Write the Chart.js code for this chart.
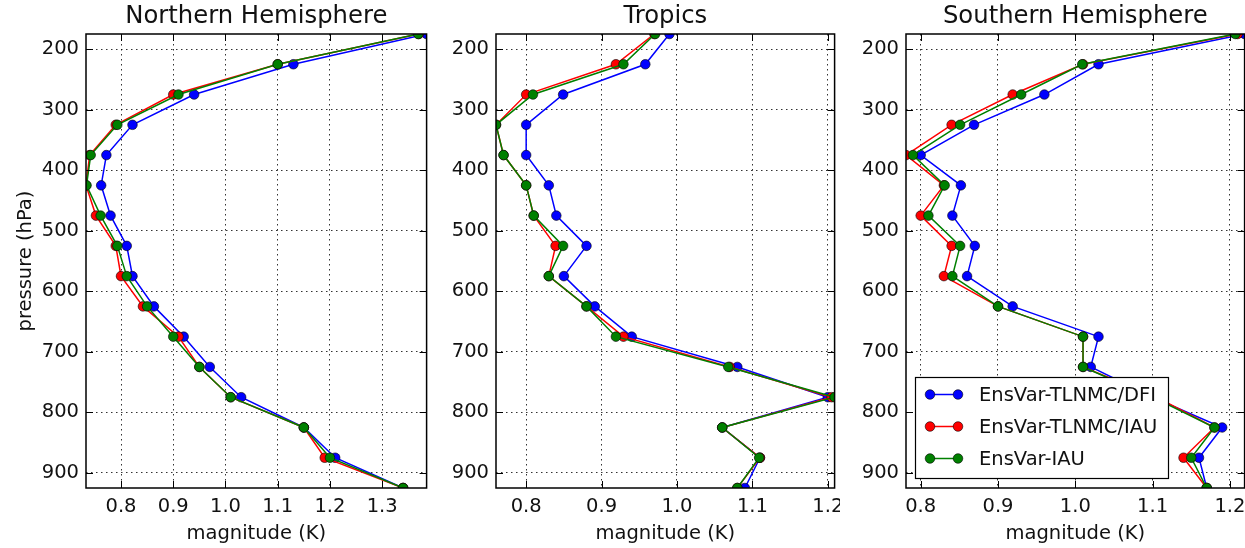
<!DOCTYPE html>
<html>
<head>
<meta charset="utf-8">
<title>Increment magnitude profiles</title>
<script src="https://cdn.jsdelivr.net/npm/chart.js@4.4.1/dist/chart.umd.min.js"></script>
<style>
  html, body { margin: 0; padding: 0; background: #fff; overflow: hidden; }
  #wrap { position: relative; width: 1245px; height: 548px; overflow: hidden; }
  .panel { position: absolute; top: 0; height: 548px; }
</style>
</head>
<body>
<div id="wrap">
  <div class="panel" style="left:0;width:432px"><canvas id="nh"></canvas></div>
  <div class="panel" style="left:440px;width:400px"><canvas id="tr"></canvas></div>
  <div class="panel" style="left:850px;width:400px"><canvas id="sh"></canvas></div>
</div>
<script>
// pressure levels (hPa), top of profile first
const levels = [175, 225, 275, 325, 375, 425, 475, 525, 575, 625, 675, 725, 775, 825, 875, 925];
const seriesNames = ['EnsVar-TLNMC/DFI', 'EnsVar-TLNMC/IAU', 'EnsVar-IAU'];
const seriesColors = ['#0000ff', '#ff0000', '#008000'];

// Northern Hemisphere
const nhDfi      = [1.385, 1.13, 0.94, 0.822, 0.772, 0.762, 0.78, 0.811, 0.822, 0.863, 0.92, 0.97, 1.03, 1.15, 1.21, 1.34];
const nhTlnmcIau = [1.37, 1.10, 0.90, 0.79, 0.74, 0.733, 0.752, 0.79, 0.80, 0.842, 0.91, 0.95, 1.01, 1.15, 1.19, 1.34];
const nhIau      = [1.369, 1.10, 0.91, 0.793, 0.742, 0.734, 0.761, 0.793, 0.811, 0.85, 0.90, 0.95, 1.01, 1.15, 1.20, 1.34];

// Tropics
const trDfi      = [0.99, 0.958, 0.849, 0.80, 0.80, 0.83, 0.84, 0.88, 0.85, 0.891, 0.94, 1.08, 1.20, 1.06, 1.11, 1.09];
const trTlnmcIau = [0.97, 0.919, 0.80, 0.76, 0.77, 0.80, 0.81, 0.839, 0.83, 0.88, 0.929, 1.07, 1.205, 1.06, 1.11, 1.08];
const trIau      = [0.971, 0.929, 0.809, 0.76, 0.77, 0.80, 0.81, 0.849, 0.83, 0.88, 0.919, 1.068, 1.209, 1.06, 1.109, 1.08];

// Southern Hemisphere
const shDfi      = [1.219, 1.03, 0.96, 0.869, 0.80, 0.852, 0.841, 0.87, 0.86, 0.919, 1.03, 1.02, 1.10, 1.19, 1.16, 1.17];
const shTlnmcIau = [1.21, 1.01, 0.919, 0.84, 0.781, 0.83, 0.80, 0.84, 0.83, 0.90, 1.01, 1.01, 1.105, 1.18, 1.14, 1.17];
const shIau      = [1.207, 1.009, 0.93, 0.851, 0.79, 0.831, 0.81, 0.851, 0.841, 0.90, 1.01, 1.01, 1.10, 1.18, 1.15, 1.17];

// tick labels
const yTicks = [200, 300, 400, 500, 600, 700, 800, 900];
const nhXTicks = [0.8, 0.9, 1.0, 1.1, 1.2, 1.3];
const trXTicks = [0.8, 0.9, 1.0, 1.1, 1.2];
const shXTicks = [0.8, 0.9, 1.0, 1.1, 1.2];

const FONT = 'DejaVu Sans';
const TEXT = '#111';
const TICK_LEN = 7;

// box + inward ticks on all four sides (matplotlib look)
const frameTicks = {
  id: 'frameTicks',
  afterDatasetsDraw(chart) {
    const { ctx, chartArea: a, scales: { x, y } } = chart;
    ctx.save();
    ctx.strokeStyle = '#000';
    ctx.lineWidth = 1;
    ctx.beginPath();
    x.ticks.forEach(t => {
      const px = Math.round(x.getPixelForValue(t.value)) + 0.5;
      ctx.moveTo(px, a.top); ctx.lineTo(px, a.top + TICK_LEN);
      ctx.moveTo(px, a.bottom); ctx.lineTo(px, a.bottom - TICK_LEN);
    });
    y.ticks.forEach(t => {
      const py = Math.round(y.getPixelForValue(t.value)) + 0.5;
      ctx.moveTo(a.left, py); ctx.lineTo(a.left + TICK_LEN, py);
      ctx.moveTo(a.right, py); ctx.lineTo(a.right - TICK_LEN, py);
    });
    ctx.stroke();
    ctx.lineWidth = 1.5;
    ctx.strokeRect(a.left, a.top, a.right - a.left, a.bottom - a.top);
    ctx.restore();
  }
};

// legend box in lower-left of the plot, two markers per entry
const boxLegend = {
  id: 'boxLegend',
  afterDraw(chart) {
    const { ctx, chartArea: a } = chart;
    const w = 253, h = 101;
    const left = a.left + 9, top = a.bottom - 10 - h;
    ctx.save();
    ctx.fillStyle = '#fff';
    ctx.fillRect(left, top, w, h);
    ctx.strokeStyle = '#000';
    ctx.lineWidth = 1.2;
    ctx.strokeRect(left + 0.5, top + 0.5, w, h);
    chart.data.datasets.forEach((ds, i) => {
      const cy = top + 17.5 + i * 32;
      ctx.strokeStyle = ds.borderColor;
      ctx.lineWidth = 1.5;
      ctx.beginPath();
      ctx.moveTo(left + 15, cy);
      ctx.lineTo(left + 43, cy);
      ctx.stroke();
      [left + 15, left + 43].forEach(cx => {
        ctx.beginPath();
        ctx.arc(cx, cy, 4.8, 0, Math.PI * 2);
        ctx.fillStyle = ds.borderColor;
        ctx.fill();
        ctx.lineWidth = 0.6;
        ctx.strokeStyle = '#000';
        ctx.stroke();
      });
      ctx.fillStyle = TEXT;
      ctx.font = '19.5px "' + FONT + '"';
      ctx.textBaseline = 'middle';
      ctx.textAlign = 'left';
      ctx.fillText(ds.label, left + 64, cy + 1);
    });
    ctx.restore();
  }
};

function buildDatasets(dfi, tlnmcIau, iau) {
  return [dfi, tlnmcIau, iau].map((vals, i) => ({
    label: seriesNames[i],
    data: vals.map((v, k) => ({ x: v, y: levels[k] })),
    borderColor: seriesColors[i],
    backgroundColor: seriesColors[i],
    pointBackgroundColor: seriesColors[i],
    pointBorderColor: '#000',
    pointBorderWidth: 0.6,
    pointRadius: 4.8,
    pointHoverRadius: 4.8,
    borderWidth: 1.5,
    showLine: true,
    order: 2 - i,   // green drawn last, on top
    clip: 0
  }));
}

function makePanel(id, title, series, xTicks, opts) {
  const all = series.flat();
  const xMin = Math.min(...all);
  const xMax = Math.max(...all);
  const tickFont = { family: FONT, size: 19.5 };
  return new Chart(document.getElementById(id), {
    type: 'scatter',
    data: { datasets: buildDatasets(...series) },
    plugins: opts.legend ? [frameTicks, boxLegend] : [frameTicks],
    options: {
      responsive: true,
      maintainAspectRatio: false,
      animation: false,
      events: [],
      layout: { padding: { left: 0, right: opts.padRight, top: 0, bottom: 0 } },
      plugins: {
        legend: { display: false },
        tooltip: { enabled: false },
        title: {
          display: true,
          text: title,
          fullSize: false,
          color: TEXT,
          font: { family: FONT, size: 24.3, weight: 'normal', lineHeight: '26px' },
          padding: { top: 4, bottom: 4 }
        }
      },
      scales: {
        x: {
          type: 'linear',
          min: xMin,
          max: xMax,
          afterBuildTicks: s => { s.ticks = xTicks.map(v => ({ value: v })); },
          // fixed axis height; edge labels may overhang the plot
          afterFit: s => { s.height = 60; s.paddingLeft = 0; s.paddingRight = 0; },
          grid: { color: 'rgba(0,0,0,0.8)', lineWidth: 1, drawTicks: false },
          border: { display: false, dash: [1.5, 3.5] },
          ticks: {
            color: TEXT, font: tickFont, padding: 7,
            autoSkip: false, maxRotation: 0,
            callback: v => Number(v).toFixed(1)
          },
          title: {
            display: true, text: 'magnitude (K)', color: TEXT,
            font: tickFont, padding: { top: 0, bottom: 2 }
          }
        },
        y: {
          type: 'linear',
          reverse: true,
          min: levels[0],
          max: levels[levels.length - 1],
          afterBuildTicks: s => { s.ticks = yTicks.map(v => ({ value: v })); },
          afterFit: s => { s.width = opts.yWidth; s.paddingTop = 0; s.paddingBottom = 0; },
          grid: { color: 'rgba(0,0,0,0.8)', lineWidth: 1, drawTicks: false },
          border: { display: false, dash: [1.5, 3.5] },
          ticks: { color: TEXT, font: tickFont, padding: 7, autoSkip: false },
          title: {
            display: !!opts.yTitle, text: opts.yTitle || '', color: TEXT,
            font: tickFont, padding: { top: 14, bottom: 0 }
          }
        }
      }
    }
  });
}

makePanel('nh', 'Northern Hemisphere', [nhDfi, nhTlnmcIau, nhIau], nhXTicks,
  { yWidth: 86, padRight: 5, yTitle: 'pressure (hPa)' });
makePanel('tr', 'Tropics', [trDfi, trTlnmcIau, trIau], trXTicks,
  { yWidth: 56, padRight: 4 });
makePanel('sh', 'Southern Hemisphere', [shDfi, shTlnmcIau, shIau], shXTicks,
  { yWidth: 56, padRight: 4, legend: true });
</script>
</body>
</html>
